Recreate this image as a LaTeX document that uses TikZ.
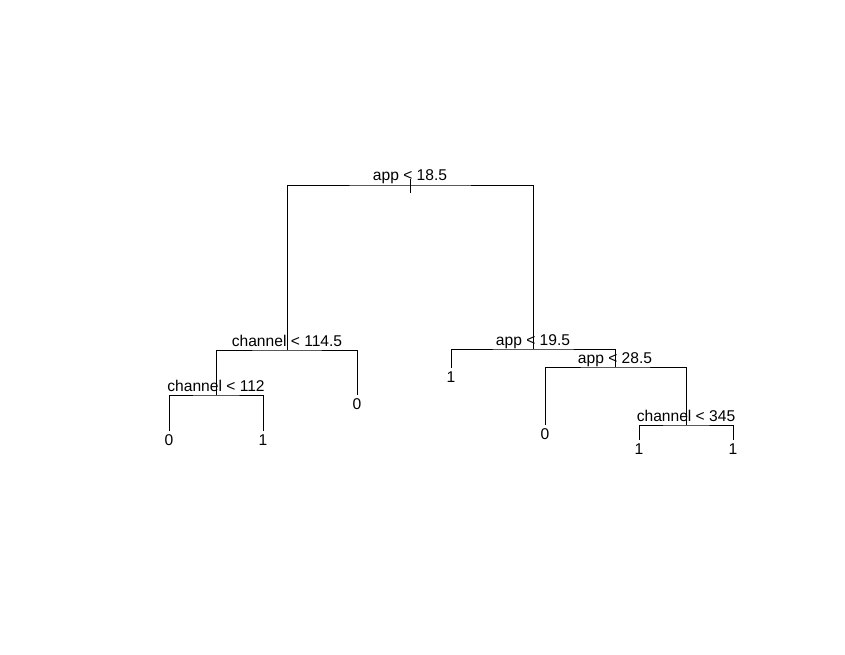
\documentclass[tikz,border=0pt]{standalone}
\usepackage{fontspec}
\setmainfont{Liberation Sans}
\usetikzlibrary{calc}
\definecolor{treeInk}{HTML}{000000}

\begin{document}
\begin{tikzpicture}[
    x=1pt, y=-1pt,
    line width=1pt,
    every node/.style={font=\fontsize{15.6}{18}\selectfont, text=treeInk},
    split/.style={anchor=base, inner sep=0pt, yshift=4pt},
    leaf/.style={anchor=north, inner sep=0pt, yshift=-3.5pt},
  ]
  % Page frame (pixel units, y downwards)
  \useasboundingbox (0,0) rectangle (845,655);

  % Split points
  \coordinate (root) at (410,185);
  \coordinate (n1) at (287,350);
  \coordinate (n2) at (533,349);
  \coordinate (n3) at (216,395);
  \coordinate (n4) at (615,367);
  \coordinate (n5) at (686,425);

  % Leaf ends
  \coordinate (a) at (169,431);
  \coordinate (b) at (263,431);
  \coordinate (c) at (357,395);
  \coordinate (d) at (451,368);
  \coordinate (e) at (545,425);
  \coordinate (f) at (639,440);
  \coordinate (g) at (733,440);

  % Branches
  \draw[treeInk] (n1) |- (root) -| (n2);
  \draw[treeInk] (n3) |- (n1) -| (c);
  \draw[treeInk] (d) |- (n2) -| (n4);
  \draw[treeInk] (a) |- (n3) -| (b);
  \draw[treeInk] (e) |- (n4) -| (n5);
  \draw[treeInk] (f) |- (n5) -| (g);
  \draw[treeInk] (root) ++(0,-6) -- ++(0,14);

  % Split labels
  \node[split] (t-root) at (root) {app < 18.5};
  \node[split] (t-n1) at (n1) {channel < 114.5};
  \node[split] (t-n2) at (n2) {app < 19.5};
  \node[split] (t-n3) at (n3) {channel < 112};
  \node[split] (t-n4) at (n4) {app < 28.5};
  \node[split] (t-n5) at (n5) {channel < 345};

  % Leaf labels
  \node[leaf] (t-a) at (a) {0};
  \node[leaf] (t-b) at (b) {1};
  \node[leaf] (t-c) at (c) {0};
  \node[leaf] (t-d) at (d) {1};
  \node[leaf] (t-e) at (e) {0};
  \node[leaf] (t-f) at (f) {1};
  \node[leaf] (t-g) at (g) {1};
\end{tikzpicture}
\end{document}
